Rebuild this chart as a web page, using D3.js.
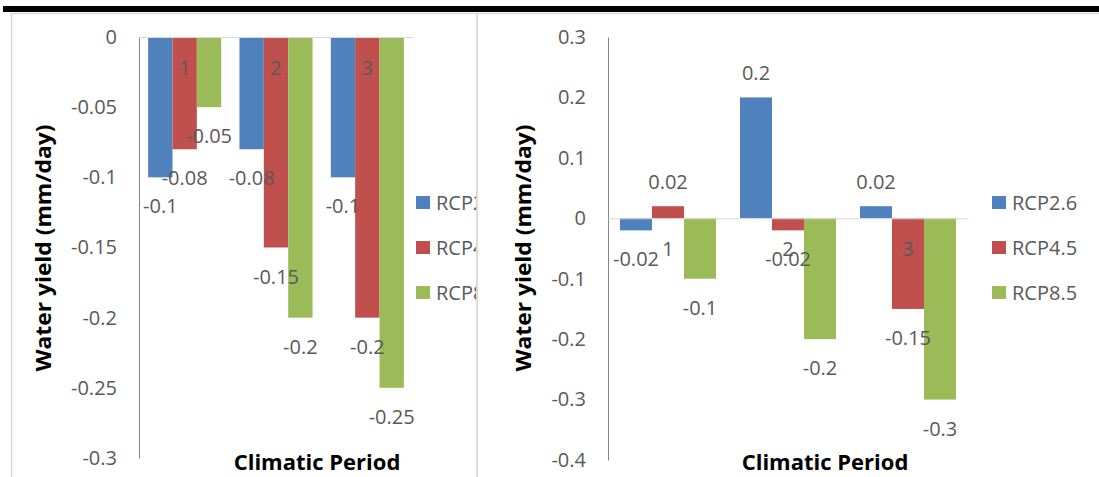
<!DOCTYPE html>
<html>
<head>
<meta charset="utf-8">
<script src="https://cdn.jsdelivr.net/npm/d3@7"></script>
<style>
  body { margin: 0; background: #fff; }
  text { font-family: "Open Sans", sans-serif; }
</style>
</head>
<body>
<script>
// periods on the x axis and the three scenarios
var periods = ["1", "2", "3"];
var scenarios = ["RCP2.6", "RCP4.5", "RCP8.5"];
var colors = ["#4f81bd", "#c0504d", "#9bbb59"];

// left panel values (mm/day)
var leftRcp26 = [-0.1, -0.08, -0.1];
var leftRcp45 = [-0.08, -0.15, -0.2];
var leftRcp85 = [-0.05, -0.2, -0.25];
var leftTicks = [0, -0.05, -0.1, -0.15, -0.2, -0.25, -0.3];

// right panel values (mm/day)
var rightRcp26 = [-0.02, 0.2, 0.02];
var rightRcp45 = [0.02, -0.02, -0.15];
var rightRcp85 = [-0.1, -0.2, -0.3];
var rightTicks = [0.3, 0.2, 0.1, 0, -0.1, -0.2, -0.3, -0.4];

var svg = d3.select("body").append("svg")
    .attr("width", 1099)
    .attr("height", 477);

// black rule on top
svg.append("rect")
    .attr("x", 3).attr("y", 6).attr("width", 1096).attr("height", 6)
    .attr("fill", "#000");

// panel frames
svg.append("rect")
    .attr("x", 11.5).attr("y", 13.5).attr("width", 465.5).attr("height", 480)
    .attr("fill", "none").attr("stroke", "#d9d9d9").attr("stroke-width", 1.5);
svg.append("rect")
    .attr("x", 477).attr("y", 13.5).attr("width", 640).attr("height", 480)
    .attr("fill", "none").attr("stroke", "#d9d9d9").attr("stroke-width", 1.5);

svg.append("clipPath").attr("id", "clipLeft")
    .append("rect").attr("x", 12).attr("y", 14).attr("width", 464).attr("height", 470);

function drawPanel(p) {
    var g = svg.append("g");
    if (p.clip) g.attr("clip-path", "url(#" + p.clip + ")");

    var y = d3.scaleLinear().domain(p.yDomain).range(p.yRange);
    var x0 = d3.scaleBand().domain(periods).range(p.xRange)
        .paddingInner(0.2).paddingOuter(0.1);
    var x1 = d3.scaleBand().domain(scenarios).range([0, x0.bandwidth()]);

    var rows = [];
    periods.forEach(function(per, i) {
        scenarios.forEach(function(s, j) {
            rows.push({ period: per, scen: s, idx: j, v: p.series[j][i] });
        });
    });

    // bars
    g.selectAll(".bar").data(rows).enter().append("rect")
        .attr("x", function(d) { return x0(d.period) + x1(d.scen); })
        .attr("y", function(d) { return Math.min(y(d.v), y(0)); })
        .attr("width", x1.bandwidth())
        .attr("height", function(d) { return Math.abs(y(d.v) - y(0)); })
        .attr("fill", function(d) { return colors[d.idx]; });

    // y axis
    var ya = g.append("g")
        .attr("transform", "translate(" + p.xRange[0] + ",0)")
        .call(d3.axisLeft(y).tickValues(p.ticks).tickSize(0).tickPadding(22)
            .tickFormat(function(d) { return String(d); }));
    ya.select(".domain").attr("stroke", "#868686");
    ya.selectAll("text").attr("font-size", 20).attr("fill", "#595959")
        .attr("font-family", "Open Sans");

    // category axis along zero
    var xa = g.append("g")
        .attr("transform", "translate(0," + y(0) + ")")
        .call(d3.axisBottom(x0).tickSize(0).tickPadding(24).tickSizeOuter(0));
    xa.select(".domain").attr("stroke", "#d9d9d9");
    xa.selectAll("text").attr("font-size", 20).attr("fill", "#595959")
        .attr("font-family", "Open Sans");

    // data labels
    g.selectAll(".lbl").data(rows).enter().append("text")
        .attr("x", function(d) { return x0(d.period) + x1(d.scen) + x1.bandwidth() / 2; })
        .attr("y", function(d) { return d.v < 0 ? y(d.v) + 36 : y(d.v) - 17; })
        .attr("text-anchor", "middle")
        .attr("font-size", 20)
        .attr("fill", "#595959")
        .text(function(d) { return String(d.v); });

    // legend
    scenarios.forEach(function(s, j) {
        g.append("rect")
            .attr("x", p.legendX).attr("y", 196 + 45 * j)
            .attr("width", 14).attr("height", 13)
            .attr("fill", colors[j]);
        g.append("text")
            .attr("x", p.legendX + 20).attr("y", 210 + 45 * j)
            .attr("font-size", 20).attr("fill", "#595959")
            .text(s);
    });

    // titles
    g.append("text")
        .attr("transform", "translate(" + p.yTitleX + ",248) rotate(-90)")
        .attr("text-anchor", "middle")
        .attr("font-size", 21).attr("font-weight", "bold").attr("fill", "#000")
        .attr("textLength", 247).attr("lengthAdjust", "spacingAndGlyphs")
        .text("Water yield (mm/day)");
    g.append("text")
        .attr("x", p.xTitleX).attr("y", 470)
        .attr("text-anchor", "middle")
        .attr("font-size", 22).attr("font-weight", "bold").attr("fill", "#000")
        .text("Climatic Period");
}

drawPanel({
    series: [leftRcp26, leftRcp45, leftRcp85],
    ticks: leftTicks,
    yDomain: [-0.3, 0], yRange: [458, 37],
    xRange: [139, 413],
    legendX: 416, yTitleX: 51, xTitleX: 317, clip: "clipLeft"
});

drawPanel({
    series: [rightRcp26, rightRcp45, rightRcp85],
    ticks: rightTicks,
    yDomain: [-0.4, 0.3], yRange: [460, 37],
    xRange: [608, 968],
    legendX: 992, yTitleX: 531, xTitleX: 825
});
</script>
</body>
</html>
